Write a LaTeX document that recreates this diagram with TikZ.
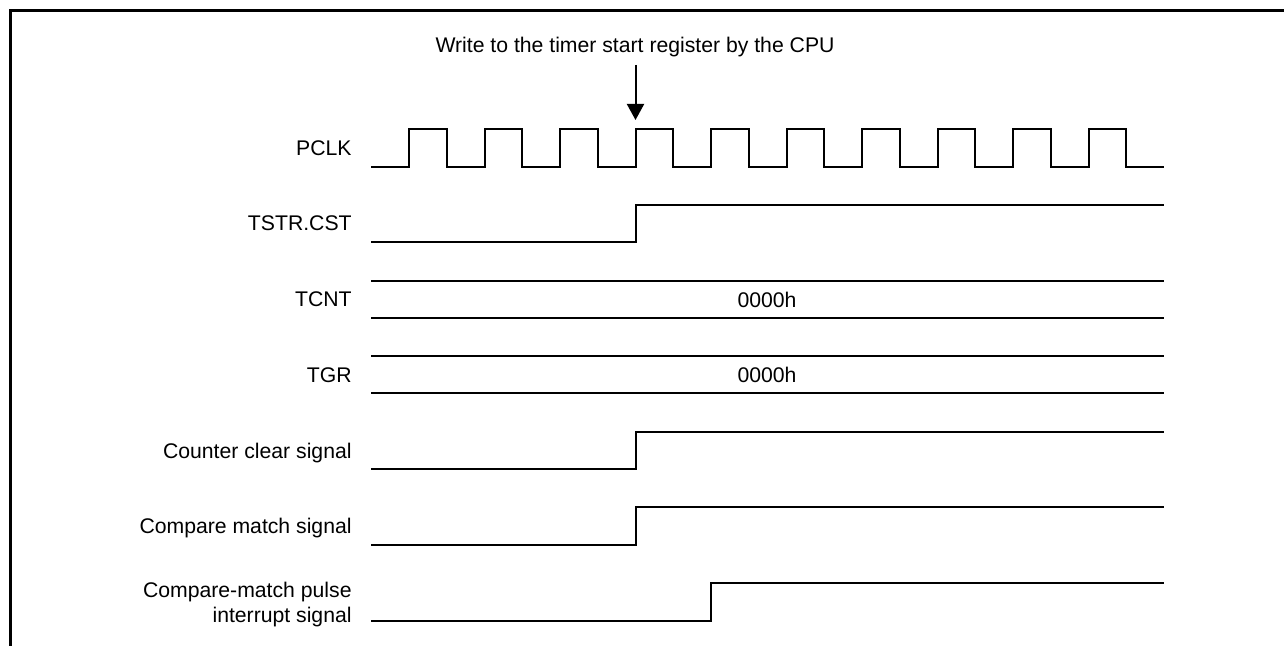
\documentclass[tikz,border=0pt]{standalone}
\usepackage{fontspec}
\setmainfont{Liberation Sans}
\usetikzlibrary{arrows.meta}
\tikzset{
  sig name/.style={
    anchor=base east, inner sep=0pt,
    font=\fontsize{10.6}{12.5}\selectfont,
  },
  bus value/.style={
    anchor=base, inner sep=0pt,
    font=\fontsize{10.6}{12.5}\selectfont,
  },
  wave/.style={
    line width=1pt, line join=miter,
  },
  frame line/.style={
    line width=1.5pt,
  },
}

\begin{document}
\begin{tikzpicture}[x=0.5pt, y=-0.5pt]

% --- canvas and frame (pixel grid, y down) ---
\useasboundingbox (0,0) rectangle (1284,646);
\draw[frame line] (10.5,646) -- (10.5,10.5) -- (1284,10.5);

\def\xStart{371}   % left end of every waveform
\def\xEnd{1164}    % right end of every waveform
\def\xEdge{635.5}  % clock edge where the timer starts
\def\xLate{711}    % one clock later

% --- CPU write marker ---
\node[bus value] (cpuWrite) at (635,53) {Write to the timer start register by the CPU};
\coordinate (cpuFrom) at (\xEdge,65);
\coordinate (cpuTo) at (\xEdge,120);
\draw[line width=1pt, -{Triangle[length=8pt, width=8.5pt]}] (cpuFrom) -- (cpuTo);

% --- PCLK ---
\node[sig name] (nPCLK) at (352,155.5) {PCLK};
\draw[wave] (\xStart,167)
  foreach \k in {0,...,9} { -- ({409+75.5*\k},167) -- ++(0,-38) -- ++(37.75,0) -- ++(0,38) }
  -- (\xEnd,167);

% --- TSTR.CST ---
\node[sig name] (nTSTR) at (352,231) {TSTR.CST};
\draw[wave] (\xStart,242) -| (\xEdge,205) -- (\xEnd,205);

% --- TCNT ---
\node[sig name] (nTCNT) at (352,307) {TCNT};
\draw[wave] (\xStart,281) -- (\xEnd,281);
\draw[wave] (\xStart,318) -- (\xEnd,318);
\node[bus value] (vTCNT) at (767,307.5) {0000h};

% --- TGR ---
\node[sig name] (nTGR) at (352,382) {TGR};
\draw[wave] (\xStart,356) -- (\xEnd,356);
\draw[wave] (\xStart,393) -- (\xEnd,393);
\node[bus value] (vTGR) at (767,382.5) {0000h};

% --- Counter clear signal ---
\node[sig name] (nClear) at (352,458) {Counter clear signal};
\draw[wave] (\xStart,469) -| (\xEdge,432) -- (\xEnd,432);

% --- Compare match signal ---
\node[sig name] (nMatch) at (352,533.5) {Compare match signal};
\draw[wave] (\xStart,545) -| (\xEdge,507) -- (\xEnd,507);

% --- Compare-match pulse interrupt signal ---
\node[sig name, anchor=east, align=right] (nPulse) at (352,605)
  {Compare-match pulse\\interrupt signal};
\draw[wave] (\xStart,621) -| (\xLate,583) -- (\xEnd,583);

\end{tikzpicture}
\end{document}
